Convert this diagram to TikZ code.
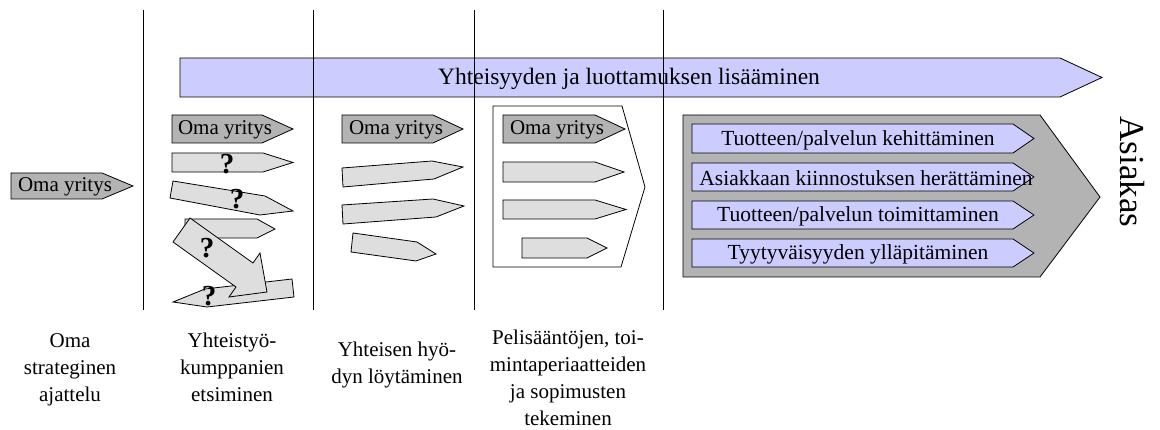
\documentclass[tikz,border=0pt]{standalone}
\usepackage{fontspec}
\setmainfont{Liberation Serif}
\definecolor{darkfill}{RGB}{179,179,179}
\definecolor{lightfill}{RGB}{222,222,222}
\definecolor{bluefill}{RGB}{204,204,255}
\tikzset{
  outline/.style={draw=black, line width=0.8pt, line join=miter},
  darkarrow/.style={outline, fill=darkfill},
  lightarrow/.style={outline, fill=lightfill},
  bluearrow/.style={outline, fill=bluefill},
  framearrow/.style={outline, fill=white},
  phase/.style={draw=black, line width=0.9pt},
  boxtext/.style={inner sep=0pt, font=\fontsize{21}{24}\selectfont},
  bluetext/.style={inner sep=0pt, font=\fontsize{21.5}{24}\selectfont},
  qmark/.style={inner sep=0pt, font=\fontsize{29}{30}\selectfont\bfseries},
  label/.style={inner sep=0pt, align=center, font=\fontsize{21}{27}\selectfont},
}
% horizontal pointer: style, left x, top y, bottom y, shaft end x, tip x
\newcommand\pointer[6]{%
  \draw[#1] (#2,#3) -- (#5,#3) -- (#6,{(#3+#4)/2}) -- (#5,#4) -- (#2,#4) -- cycle;}
\begin{document}
\begin{tikzpicture}[x=1pt, y=-1pt]
\useasboundingbox (0,0) rectangle (1160,430);

% long arrow across all phases
\pointer{bluearrow}{180}{58}{97}{1060}{1102}
\node[inner sep=0pt, font=\fontsize{23.5}{26}\selectfont] (trust) at (629,79) {Yhteisyyden ja luottamuksen lisääminen};

% phase 1
\pointer{darkarrow}{11}{173}{199}{102}{133}
\node[boxtext] (own1) at (65,187) {Oma yritys};

% phase 2: searching for partners
\pointer{darkarrow}{172}{115}{143}{262}{293}
\node[boxtext] (own2) at (225,130) {Oma yritys};
\pointer{lightarrow}{172}{153}{172}{263}{293}
\draw[lightarrow] (173,181) -- (265,196) -- (293,211) -- (260,215) -- (170,198) -- cycle;
\draw[lightarrow] (185,219) -- (257,219) -- (275,229) -- (257,238) -- (185,238) -- cycle;
\draw[lightarrow] (292,279) -- (294,297) -- (207,307) -- (173,302) -- (205,289) -- cycle;
\draw[lightarrow] (190,218) -- (253,263) -- (260,253) -- (267,292) -- (229,297) -- (236,287) -- (173,242) -- cycle;
\node[qmark] (q1) at (227,164) {?};
\node[qmark] (q2) at (237,199) {?};
\node[qmark] (q3) at (207,248) {?};
\node[qmark] (q4) at (209,296) {?};

% phase 3: finding common benefit
\pointer{darkarrow}{342}{115}{143}{433}{463}
\node[boxtext] (own3) at (396,130) {Oma yritys};
\draw[lightarrow] (342,168) -- (432,161) -- (463,167) -- (434,179) -- (343,187) -- cycle;
\draw[lightarrow] (342,205) -- (433,199) -- (464,206) -- (436,217) -- (343,224) -- cycle;
\draw[lightarrow] (353,233) -- (417,242) -- (436,254) -- (416,261) -- (351,252) -- cycle;

% phase 4: rules and agreements
\draw[framearrow] (493,106) -- (622,106) -- (645,187) -- (621,267) -- (493,267) -- cycle;
\pointer{darkarrow}{503}{115}{143}{595}{625}
\node[boxtext] (own4) at (557,130) {Oma yritys};
\pointer{lightarrow}{503}{162}{182}{595}{624}
\pointer{lightarrow}{503}{200}{219}{595}{626}
\pointer{lightarrow}{522}{238}{258}{587}{607}

% phase 5: joint activities towards the customer
\draw[darkarrow] (683,115) -- (1040,115) -- (1100,197) -- (1040,277) -- (683,277) -- cycle;
\pointer{bluearrow}{692}{124}{153}{1013}{1034}
\pointer{bluearrow}{692}{163}{191}{1013}{1034}
\pointer{bluearrow}{692}{201}{229}{1013}{1034}
\pointer{bluearrow}{692}{239}{267}{1013}{1034}
\node[bluetext] (dev) at (858,140) {Tuotteen/palvelun kehittäminen};
\node[bluetext] (interest) at (866,178) {Asiakkaan kiinnostuksen herättäminen};
\node[bluetext] (deliver) at (858,216) {Tuotteen/palvelun toimittaminen};
\node[bluetext] (satisf) at (858,254) {Tyytyväisyyden ylläpitäminen};

\node[inner sep=0pt, rotate=-90, font=\fontsize{35}{38}\selectfont] (customer) at (1132,172) {Asiakas};

% phase separators
\foreach \x/\n in {143/a,313/b,474/c,663/d}{
  \draw[phase] (\x,10) coordinate (top\n) -- (\x,310) coordinate (bot\n);
}

% phase captions
\node[label, anchor=north] (l1) at (70,333) {Oma\\strateginen\\ajattelu};
\node[label, anchor=north] (l2) at (232,333) {Yhteistyö-\\kumppanien\\etsiminen};
\node[label, anchor=north] (l3) at (397,342) {Yhteisen hyö-\\dyn löytäminen};
\node[label, anchor=north] (l4) at (568,330) {Pelisääntöjen, toi-\\mintaperiaatteiden\\ja sopimusten\\tekeminen};
\end{tikzpicture}
\end{document}
